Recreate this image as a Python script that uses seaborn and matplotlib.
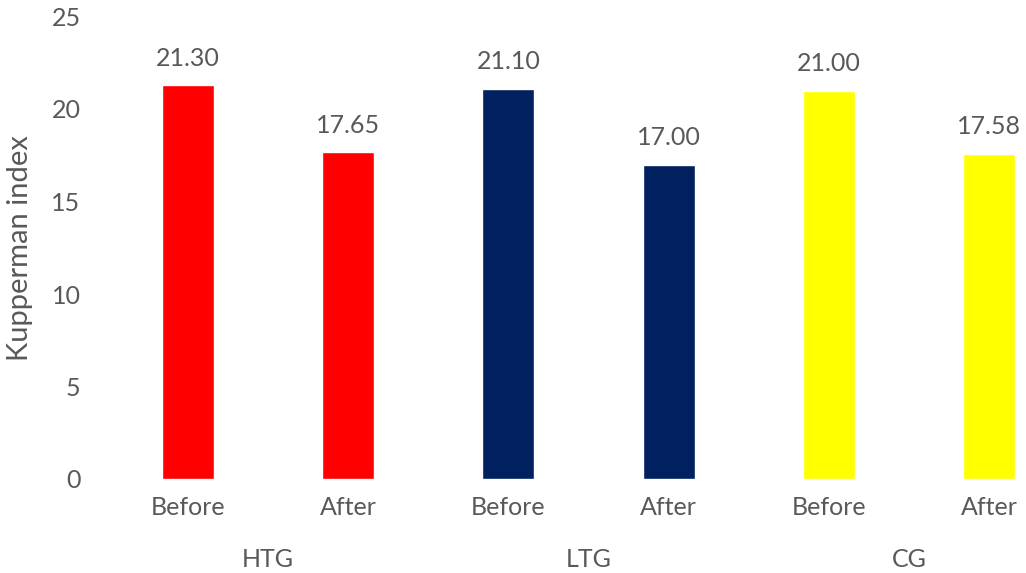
import matplotlib
matplotlib.use("Agg")
import matplotlib.pyplot as plt
import seaborn as sns
import pandas as pd

groups = ["HTG", "HTG", "LTG", "LTG", "CG", "CG"]
phases = ["Before", "After", "Before", "After", "Before", "After"]
values = [21.30, 17.65, 21.10, 17.00, 21.00, 17.58]
group_colors = {"HTG": "#FF0000", "LTG": "#002060", "CG": "#FFFF00"}
y_ticks = [0, 5, 10, 15, 20, 25]

sns.set_theme(style="white")
plt.rcParams["font.family"] = ["Lato", "DejaVu Sans"]

text_color = "#595959"

df = pd.DataFrame({
    "slot": [f"{g} {p}" for g, p in zip(groups, phases)],
    "group": groups,
    "phase": phases,
    "value": values,
})

fig = plt.figure(figsize=(10.26, 5.73), dpi=100)
ax = fig.add_axes([100 / 1026, 94 / 573, 926 / 1026, 462.5 / 573])

sns.barplot(data=df, x="slot", y="value", hue="group", palette=group_colors,
            width=0.325, dodge=False, legend=False, ax=ax, saturation=1)

for cont in ax.containers:
    ax.bar_label(cont, fmt="%.2f", padding=11, fontsize=18, color=text_color)

ax.set_xlim(-0.549, 5.231)
ax.set_ylim(0, 25)
ax.set_yticks(y_ticks)
ax.set_xticks(range(len(phases)))
ax.set_xticklabels(phases)
ax.tick_params(axis="both", length=0, labelsize=18, colors=text_color)
ax.tick_params(axis="y", pad=14)
ax.tick_params(axis="x", pad=12)
ax.set_xlabel("")
ax.set_ylabel("Kupperman index", fontsize=21, color=text_color)
ax.yaxis.set_label_coords(-0.072, 0.5)
for s in ax.spines.values():
    s.set_visible(False)

# group names under each pair of bars
for i in range(0, len(groups), 2):
    ax.annotate(groups[i], xy=(i + 0.5, 0), xycoords=("data", "axes fraction"),
                xytext=(0, -58), textcoords="offset points",
                ha="center", va="center", fontsize=18, color=text_color)

fig.savefig("out.png", dpi=100)
